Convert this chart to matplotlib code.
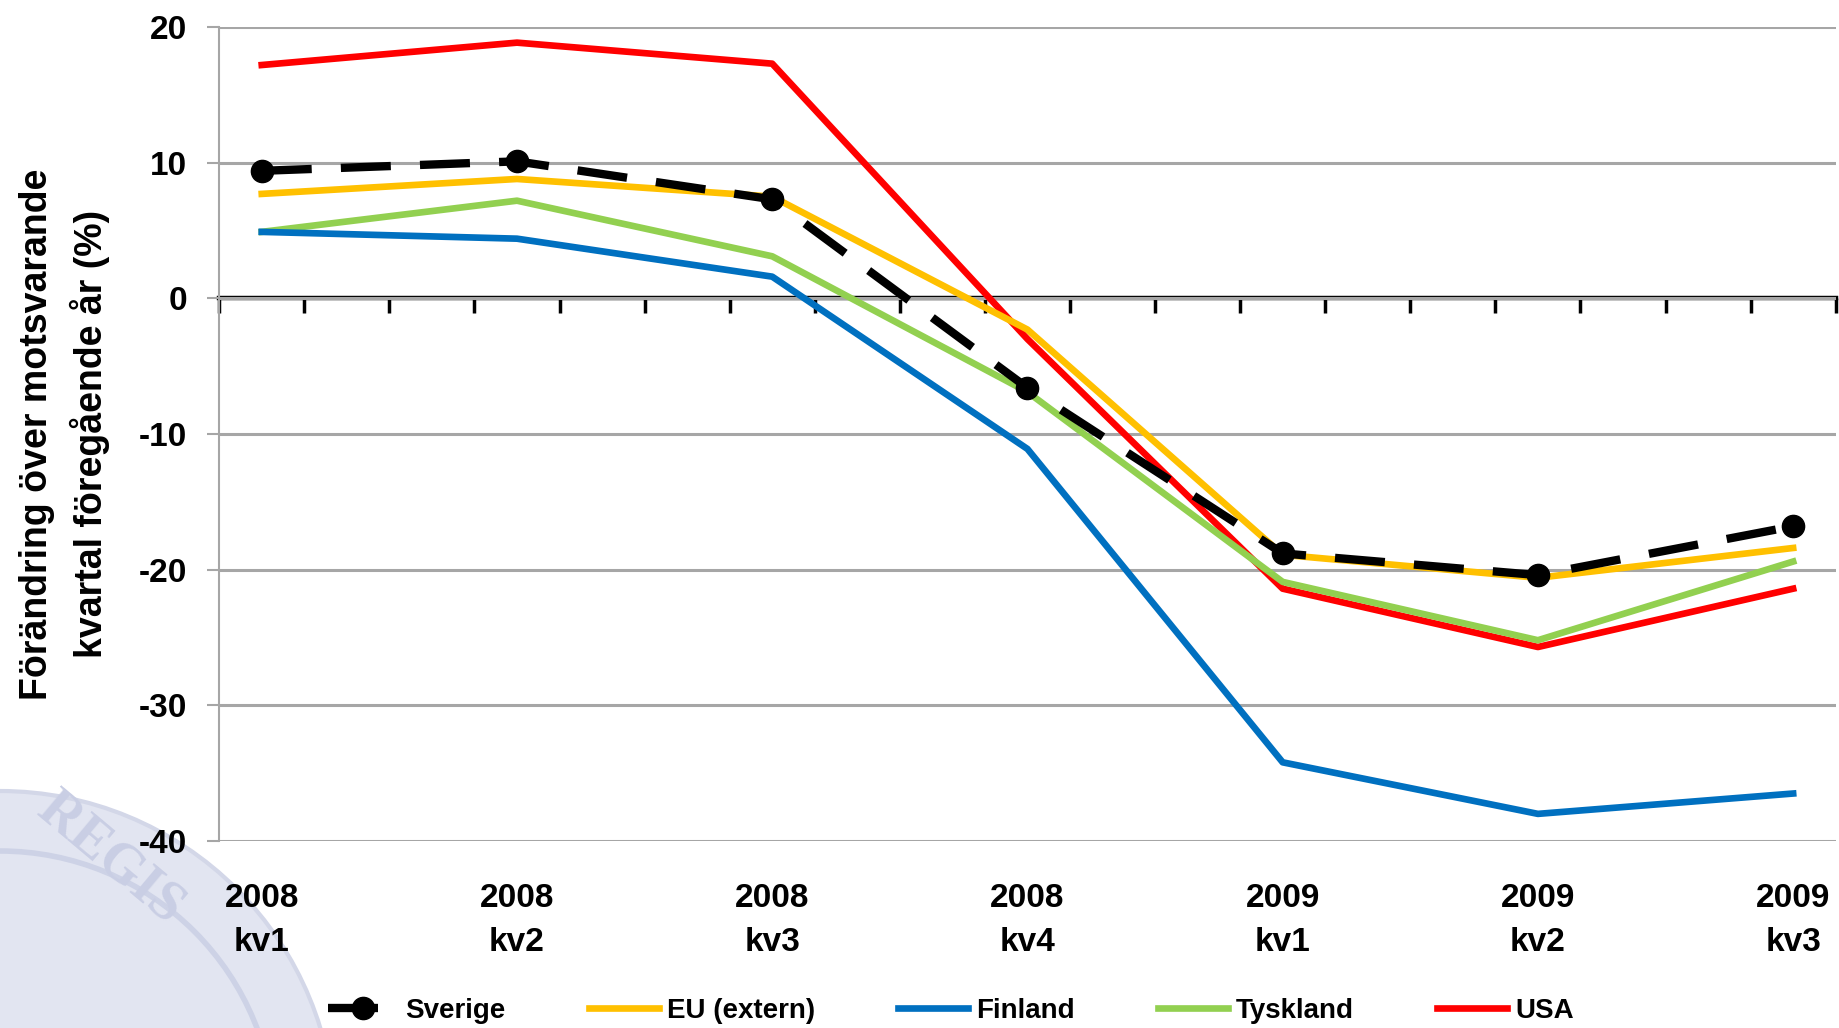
import numpy as np
import matplotlib
matplotlib.use("Agg")
import matplotlib.pyplot as plt
from matplotlib.patches import Circle

plt.rcParams["font.family"] = ["Liberation Sans", "DejaVu Sans"]
plt.rcParams["font.weight"] = "bold"
plt.rcParams["axes.unicode_minus"] = False

# one value per quarter; the category axis has monthly slots (3 per quarter)
quarters = ["2008\nkv1", "2008\nkv2", "2008\nkv3", "2008\nkv4",
            "2009\nkv1", "2009\nkv2", "2009\nkv3"]
sverige = [9.4, 10.1, 7.3, -6.6, -18.8, -20.4, -16.8]
eu_extern = [7.7, 8.8, 7.5, -2.3, -18.9, -20.6, -18.4]
finland = [4.9, 4.4, 1.6, -11.1, -34.2, -38.0, -36.5]
tyskland = [4.9, 7.2, 3.1, -6.9, -20.9, -25.2, -19.4]
usa = [17.2, 18.85, 17.3, -3.0, -21.4, -25.7, -21.4]

YMIN, YMAX = -40, 20
x = np.arange(len(quarters)) * 3

fig = plt.figure(figsize=(18.39, 10.28), dpi=100)

# faint seal watermark in the lower left corner
seal = Circle((0, -0.98), 3.35, transform=fig.dpi_scale_trans,
              facecolor="#e2e5f1", edgecolor="#d3d7e8", lw=3, zorder=-5)
fig.add_artist(seal)
ring = Circle((0, -0.98), 2.75, transform=fig.dpi_scale_trans,
              facecolor="none", edgecolor="#cdd2e6", lw=4, zorder=-4)
fig.add_artist(ring)
fig.text(0.06, 0.165, "REGIS", rotation=-40, fontsize=40, color="#c9cee4",
         family="Liberation Serif", weight="bold", ha="center", va="center",
         zorder=-3)

ax = fig.add_axes([0.1192, 0.1819, 0.879, 0.7918])
ax.patch.set_visible(False)

ax.plot(x, usa, color="#ff0000", lw=4.8, label="USA", zorder=3)
ax.plot(x, tyskland, color="#92d050", lw=4.8, label="Tyskland", zorder=3)
ax.plot(x, finland, color="#0070c0", lw=4.8, label="Finland", zorder=3)
ax.plot(x, eu_extern, color="#ffc000", lw=4.8, label="EU (extern)", zorder=4)
ax.plot(x, sverige, color="black", lw=6, ls=(0, (6, 3.5)), marker="o",
        markersize=16, label="Sverige", zorder=5)

ax.set_xlim(-0.5, x[-1] + 0.5)
ax.set_ylim(YMIN, YMAX)
ax.set_yticks(np.arange(YMIN, YMAX + 1, 10))
ax.yaxis.grid(True, color="#a6a6a6", lw=2.2)
ax.set_axisbelow(True)
ax.tick_params(axis="y", labelsize=24, length=9, width=1.5, color="#a6a6a6", pad=14)
for lab in ax.get_yticklabels():
    lab.set_fontweight("bold")

ax.set_xticks(x)
ax.set_xticklabels(quarters, fontsize=24, fontweight="bold", linespacing=1.55)
ax.tick_params(axis="x", length=0, pad=30)

for s in ["top", "right", "bottom"]:
    ax.spines[s].set_visible(False)
ax.spines["left"].set_color("#a6a6a6")
ax.spines["left"].set_linewidth(1.5)

# zero line carrying the monthly tick marks
zero_ax = ax.secondary_xaxis((0 - YMIN) / (YMAX - YMIN))
zero_ax.set_xticks(np.arange(-0.5, x[-1] + 1, 1.0))
zero_ax.tick_params(direction="in", length=11, width=2.5, labelbottom=False,
                    labeltop=False)
zero_ax.spines["top"].set_linewidth(3.2)
zero_ax.spines["bottom"].set_linewidth(3.2)

ax.set_ylabel("Förändring över motsvarande\nkvartal föregående år (%)",
              fontsize=27, fontweight="bold", labelpad=21, linespacing=1.45)

h, l = ax.get_legend_handles_labels()
order = ["Sverige", "EU (extern)", "Finland", "Tyskland", "USA"]
hd = dict(zip(l, h))
fig.legend([hd[k] for k in order], order, loc="center",
           bbox_to_anchor=(0.517, 0.017), ncol=5, frameon=False,
           prop={"size": 20, "weight": "bold"}, handlelength=2.5,
           columnspacing=3.0, handletextpad=0.3)

fig.savefig("out.png", dpi=100)
